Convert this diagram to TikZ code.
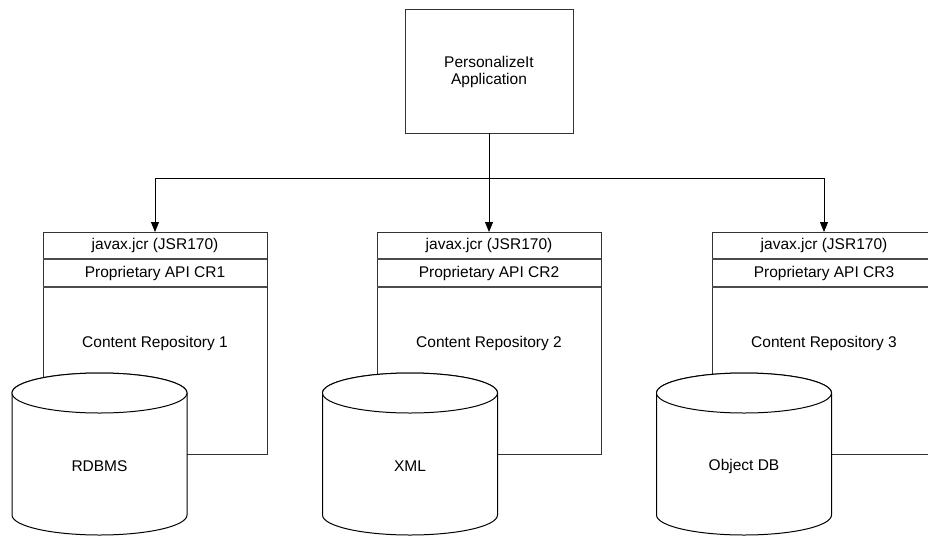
\documentclass[tikz,border=0pt]{standalone}
\usepackage{fontspec}
\setmainfont{Liberation Sans}
\usetikzlibrary{arrows.meta}
\tikzset{
  lbl/.style={font=\fontsize{15.5}{17.5}\selectfont, inner sep=0pt, align=center},
  boxline/.style={draw=black!80, line width=0.9pt},
  divline/.style={draw=black!70, line width=1.5pt},
  cyl/.style={draw=black, line width=1pt, fill=white},
  conn/.style={draw=black, line width=0.9pt},
  arr/.style={conn, -{Triangle[length=10pt,width=8pt]}},
}
\newcommand{\repo}[4]{%
  % #1 name, #2 box center x, #3 cylinder center x, #4 index/text
  \node[boxline, minimum width=224pt, minimum height=222pt, inner sep=0pt, anchor=north] (#1box) at (#2,232) {};
  \draw[divline] ([xshift=0.5pt]#1box.west |- 0,259) -- ([xshift=-0.5pt]#1box.east |- 0,259);
  \draw[divline] ([xshift=0.5pt]#1box.west |- 0,287) -- ([xshift=-0.5pt]#1box.east |- 0,287);
  \node[lbl] (#1jcr) at (#2,245.5) {javax.jcr (JSR170)};
  \node[lbl] (#1api) at (#2,273) {Proprietary API CR#4};
  \node[lbl] (#1cr) at (#2,343) {Content Repository #4};
  \path[cyl] (#3-87.5,393) -- (#3-87.5,515) arc[start angle=180, end angle=0, x radius=87.5, y radius=20]
     -- (#3+87.5,393) arc[start angle=0, end angle=-180, x radius=87.5, y radius=20] -- cycle;
  \draw[cyl] (#3,393) ellipse[x radius=87.5, y radius=20];
}
\begin{document}
\begin{tikzpicture}[x=1pt, y=-1pt]
\clip (0,0) rectangle (928,536);
\useasboundingbox (0,0) rectangle (928,536);
\fill[white] (0,0) rectangle (928,536);
\node[boxline, minimum width=168pt, minimum height=124pt, inner sep=0pt] (app) at (489,71) {};
\node[lbl] (apptext) at (489,72) {PersonalizeIt\\Application};
\repo{a}{155}{99.5}{1}
\repo{b}{489}{410}{2}
\repo{c}{824}{744}{3}
\node[lbl] (rdbms) at (99.5,466) {RDBMS};
\node[lbl] (xml) at (410,466) {XML};
\node[lbl] (odb) at (744,466) {Object DB};
\coordinate (j) at (489,178);
\draw[conn] (app.south) -- (j);
\draw[arr] (j) -| (abox.north);
\draw[arr] (j) -- (bbox.north);
\draw[arr] (j) -| (cbox.north);
\end{tikzpicture}
\end{document}
